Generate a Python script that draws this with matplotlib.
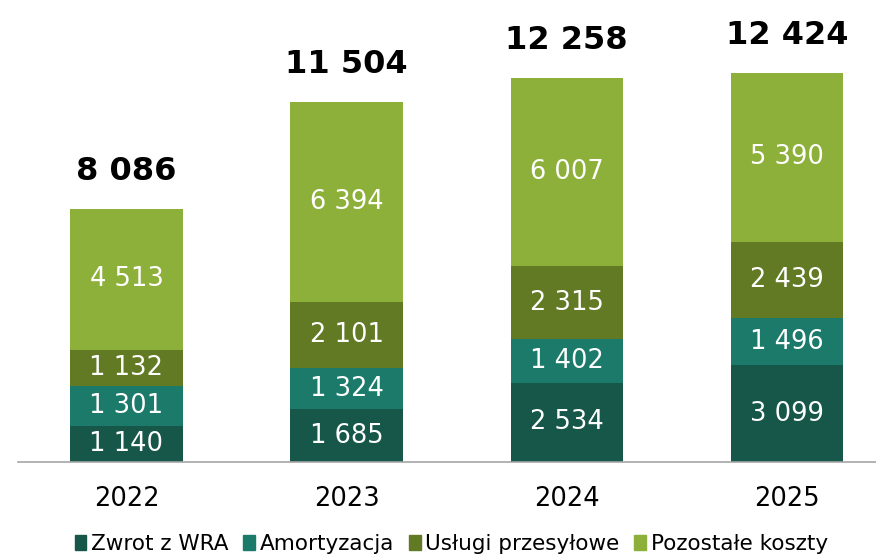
import matplotlib
matplotlib.use("Agg")
import matplotlib.pyplot as plt
import numpy as np
from matplotlib.patches import Patch

years = ["2022", "2023", "2024", "2025"]
zwrot = [1140, 1685, 2534, 3099]
amort = [1301, 1324, 1402, 1496]
uslugi = [1132, 2101, 2315, 2439]
pozostale = [4513, 6394, 6007, 5390]
totals = [8086, 11504, 12258, 12424]

series = [("Zwrot z WRA", zwrot, "#17574A"),
          ("Amortyzacja", amort, "#1B7A6A"),
          ("Usługi przesyłowe", uslugi, "#627A24"),
          ("Pozostałe koszty", pozostale, "#8DB03A")]

def fmt(v):
    return f"{v:,}".replace(",", " ")

fig = plt.figure(figsize=(8.76, 5.54), dpi=100)
ax = fig.add_axes([0.02, 0.166, 0.98, 0.834])
x = np.arange(len(years))
bottom = np.zeros(len(years))
for name, vals, col in series:
    vals = np.array(vals)
    ax.bar(x, vals, width=0.51, bottom=bottom, color=col, edgecolor="none")
    for xi, b, v in zip(x, bottom, vals):
        ax.text(xi, b + v / 2, fmt(int(v)), ha="center", va="center",
                color="white", fontsize=18.5)
    bottom += vals

for xi, t in zip(x, totals):
    ax.annotate(fmt(t), (xi, t), xytext=(0, 16), textcoords="offset points",
                ha="center", va="bottom", fontsize=23, fontweight="bold")

ax.set_xlim(-0.495, 3.405)
ax.set_ylim(0, 14755)
ax.set_yticks([])
ax.set_xticks(x)
ax.set_xticklabels(years, fontsize=18.5)
ax.tick_params(axis="x", length=0, pad=17)
for s in ["top", "right", "left"]:
    ax.spines[s].set_visible(False)
ax.spines["bottom"].set_color("#A6A6A6")
ax.spines["bottom"].set_linewidth(1.2)

handles = [Patch(color=c, label=n) for n, _, c in series]
fig.legend(handles=handles, loc="center", bbox_to_anchor=(0.515, 0.018),
           ncol=4, frameon=False, fontsize=15.5, handlelength=0.55,
           handleheight=0.65, handletextpad=0.2, columnspacing=0.7)

fig.savefig("out.png", dpi=100)
